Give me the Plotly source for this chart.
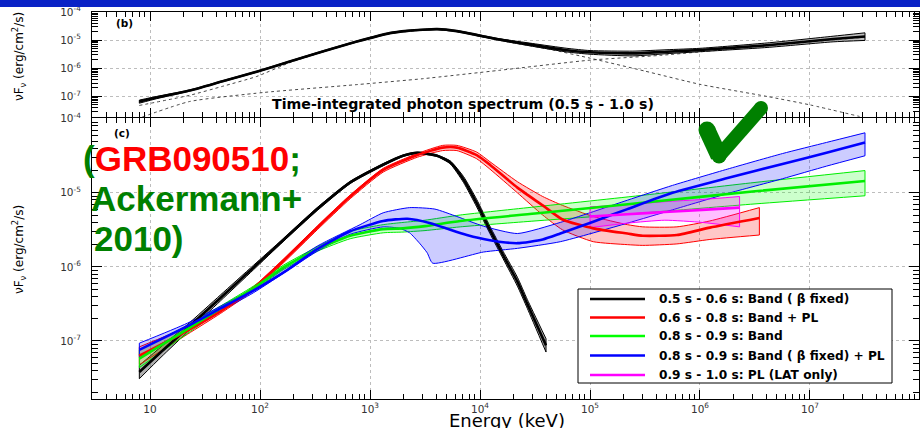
import plotly.graph_objects as go

# ---------------------------------------------------------------------------
# Spectral data: log10 E [keV] and log10 nuF_nu [erg/cm^2/s]
# ---------------------------------------------------------------------------

# Panel (c): time-resolved spectra
BLK_LE = [0.903, 1.10, 1.34, 1.64, 1.94, 2.21, 2.52, 2.82, 3.12, 3.30, 3.43, 3.61, 3.73, 3.85, 3.97, 4.09, 4.21, 4.34, 4.43, 4.60]
BLK_MID = [-7.42, -7.15, -6.83, -6.42, -6.01, -5.64, -5.22, -4.86, -4.62, -4.50, -4.46, -4.50, -4.59, -4.82, -5.14, -5.50, -5.84, -6.20, -6.50, -7.06]
BLK_HI = [-7.33, -7.08, -6.78, -6.38, -5.98, -5.62, -5.20, -4.845, -4.605, -4.49, -4.45, -4.49, -4.57, -4.78, -5.09, -5.45, -5.79, -6.14, -6.44, -6.97]
BLK_LO = [-7.51, -7.22, -6.88, -6.46, -6.04, -5.66, -5.24, -4.875, -4.635, -4.51, -4.47, -4.51, -4.61, -4.86, -5.19, -5.55, -5.89, -6.26, -6.56, -7.15]

RED_LE = [0.903, 1.34, 1.64, 1.94, 2.21, 2.52, 2.82, 3.12, 3.43, 3.66, 3.79, 3.97, 4.09, 4.34, 4.57, 4.75, 5.03, 5.34, 5.48, 5.79, 6.09, 6.54]
RED_MID = [-7.20, -6.86, -6.60, -6.29, -5.92, -5.47, -5.05, -4.69, -4.49, -4.39, -4.39, -4.49, -4.62, -4.93, -5.17, -5.36, -5.48, -5.55, -5.58, -5.57, -5.47, -5.34]
RED_HI = [-7.08, -6.81, -6.57, -6.27, -5.90, -5.45, -5.03, -4.67, -4.47, -4.36, -4.36, -4.45, -4.58, -4.85, -5.05, -5.17, -5.32, -5.43, -5.46, -5.46, -5.38, -5.20]
RED_LO = [-7.32, -6.91, -6.63, -6.32, -5.95, -5.50, -5.08, -4.72, -4.52, -4.43, -4.43, -4.54, -4.68, -5.00, -5.30, -5.50, -5.66, -5.70, -5.71, -5.69, -5.63, -5.57]

GRN_LE = [0.903, 1.34, 1.64, 1.94, 2.21, 2.52, 2.82, 3.12, 3.30, 3.50, 3.82, 4.50, 5.50, 6.50, 7.50]
GRN_MID = [-7.24, -6.84, -6.56, -6.29, -6.01, -5.76, -5.58, -5.49, -5.48, -5.45, -5.38, -5.28, -5.13, -4.98, -4.84]
GRN_HI = [-7.12, -6.79, -6.53, -6.26, -5.98, -5.73, -5.52, -5.43, -5.40, -5.37, -5.30, -5.19, -5.03, -4.86, -4.70]
GRN_LO = [-7.36, -6.90, -6.59, -6.32, -6.04, -5.79, -5.62, -5.54, -5.53, -5.51, -5.46, -5.38, -5.27, -5.15, -5.04]

BLU_LE = [0.903, 1.34, 1.64, 1.94, 2.25, 2.52, 2.82, 3.12, 3.34, 3.55, 3.73, 3.88, 4.09, 4.34, 4.57, 4.73, 5.03, 5.34, 5.75, 6.25, 6.75, 7.15, 7.50]
BLU_MID = [-7.12, -6.80, -6.56, -6.32, -6.04, -5.76, -5.52, -5.38, -5.35, -5.41, -5.50, -5.57, -5.64, -5.68, -5.63, -5.55, -5.39, -5.22, -5.00, -4.80, -4.61, -4.46, -4.32]
BLU_HI_LE = [0.903, 1.34, 1.94, 2.52, 2.91, 3.12, 3.36, 3.59, 3.79, 4.03, 4.34, 4.73, 5.34, 5.75, 6.25, 6.75, 7.15, 7.50]
BLU_HI = [-7.03, -6.76, -6.29, -5.72, -5.43, -5.27, -5.20, -5.22, -5.32, -5.45, -5.55, -5.40, -5.10, -4.90, -4.68, -4.47, -4.32, -4.19]
BLU_LO_LE = [0.903, 1.34, 1.94, 2.52, 2.82, 3.12, 3.27, 3.36, 3.45, 3.52, 3.57, 4.03, 4.34, 4.73, 5.34, 5.75, 6.25, 6.75, 7.15, 7.50]
BLU_LO = [-7.21, -6.84, -6.35, -5.79, -5.56, -5.46, -5.48, -5.54, -5.68, -5.81, -5.95, -5.80, -5.75, -5.66, -5.41, -5.23, -5.01, -4.81, -4.64, -4.50]

MAG_LE = [5.00, 5.34, 5.68, 6.02, 6.36]
MAG_MID = [-5.32, -5.29, -5.26, -5.23, -5.20]
MAG_HI = [-5.19, -5.16, -5.12, -5.09, -5.05]
MAG_LO = [-5.47, -5.41, -5.37, -5.40, -5.46]

# Panel (b): time-integrated spectrum (total model and its two components)
TOT_LE = [0.903, 1.06, 1.36, 1.66, 1.97, 2.27, 2.57, 2.88, 3.18, 3.34, 3.48, 3.61, 3.79, 4.18, 4.48, 4.79, 5.00, 5.39, 5.70, 6.00, 6.61, 7.21, 7.50]
TOT_MID = [-7.18, -7.04, -6.79, -6.46, -6.12, -5.76, -5.40, -5.05, -4.75, -4.67, -4.63, -4.61, -4.68, -4.98, -5.17, -5.36, -5.43, -5.47, -5.41, -5.35, -5.18, -4.96, -4.87]
TOT_HI = [-7.13, -7.00, -6.77, -6.44, -6.10, -5.74, -5.38, -5.03, -4.73, -4.65, -4.61, -4.59, -4.66, -4.95, -5.12, -5.29, -5.37, -5.39, -5.34, -5.29, -5.10, -4.86, -4.74]
TOT_LO = [-7.24, -7.08, -6.81, -6.48, -6.14, -5.78, -5.42, -5.07, -4.77, -4.69, -4.65, -4.63, -4.70, -5.01, -5.22, -5.42, -5.50, -5.56, -5.48, -5.41, -5.26, -5.06, -5.01]

BND_LE = [0.903, 1.36, 1.66, 1.97, 2.27, 2.57, 2.88, 3.18, 3.48, 3.61, 3.79, 4.18, 4.64, 5.00, 5.50, 6.00, 6.61, 7.00, 7.45]
BND = [-7.32, -6.96, -6.64, -6.29, -5.80, -5.42, -5.06, -4.77, -4.64, -4.62, -4.70, -5.01, -5.33, -5.64, -6.10, -6.57, -7.00, -7.30, -7.71]

PL_LE = [0.93, 1.36, 2.03, 2.88, 3.48, 4.18, 5.00, 5.64, 6.50, 7.50]
PL = [-7.73, -7.18, -6.86, -6.58, -6.37, -6.07, -5.71, -5.54, -5.24, -4.90]

LEGEND_LABELS = [
    "0.5 s - 0.6 s: Band ( \u03b2 fixed)",
    "0.6 s - 0.8 s: Band + PL",
    "0.8 s - 0.9 s: Band",
    "0.8 s - 0.9 s: Band ( \u03b2 fixed) + PL",
    "0.9 s - 1.0 s: PL (LAT only)",
]
SERIES_COLORS = ["#000000", "#ff0000", "#00ee00", "#0000ff", "#ff00ff"]
SERIES_FILLS = ["rgba(110,110,110,0.55)", "rgba(255,0,0,0.22)", "rgba(0,255,0,0.20)",
                "rgba(0,0,255,0.20)", "rgba(255,0,255,0.25)"]

X_TICKS = [1, 2, 3, 4, 5, 6, 7, 8]
Y_TICKS = [-7, -6, -5, -4]

# ---------------------------------------------------------------------------
W, H = 920, 428
ML, MR, MT, MB = 92, 1, 12, 29
PW, PH = W - ML - MR, H - MT - MB
FONT = "Liberation Sans"
WIDE = "DejaVu Sans"


def px(x):
    return (x - ML) / PW


def py(y):
    return (H - MB - y) / PH


def lin(vals):
    return [10 ** v for v in vals]


fig = go.Figure()
SMOOTH = 0.55


def add_band(le_hi, hi, le_lo, lo, color, fill, xa, ya, ew=1.0):
    common = dict(mode="lines", xaxis=xa, yaxis=ya, showlegend=False, hoverinfo="skip")
    fig.add_trace(go.Scatter(x=lin(le_lo), y=lin(lo),
                             line=dict(color=color, width=ew, shape="spline", smoothing=SMOOTH), **common))
    fig.add_trace(go.Scatter(x=lin(le_hi), y=lin(hi), fill="tonexty", fillcolor=fill,
                             line=dict(color=color, width=ew, shape="spline", smoothing=SMOOTH), **common))
    caps_x = lin([le_lo[0], le_hi[0]]) + [None] + lin([le_lo[-1], le_hi[-1]])
    caps_y = lin([lo[0], hi[0]]) + [None] + lin([lo[-1], hi[-1]])
    fig.add_trace(go.Scatter(x=caps_x, y=caps_y, line=dict(color=color, width=ew), **common))


def add_curve(le, vals, color, width, xa, ya, dash="solid"):
    fig.add_trace(go.Scatter(x=lin(le), y=lin(vals), mode="lines", xaxis=xa, yaxis=ya,
                             line=dict(color=color, width=width, dash=dash, shape="spline", smoothing=SMOOTH),
                             showlegend=False, hoverinfo="skip"))


# panel (b)
add_curve(BND_LE, BND, "#333333", 0.9, "x2", "y2", dash="dot")
add_curve(PL_LE, PL, "#333333", 0.9, "x2", "y2", dash="dot")
add_band(TOT_LE, TOT_HI, TOT_LE, TOT_LO, "#000000", "rgba(150,150,150,0.6)", "x2", "y2", ew=1.0)
add_curve(TOT_LE, TOT_MID, "#000000", 2.6, "x2", "y2")

# panel (c)
series = [
    (BLK_LE, BLK_HI, BLK_LE, BLK_LO, BLK_LE, BLK_MID),
    (RED_LE, RED_HI, RED_LE, RED_LO, RED_LE, RED_MID),
    (GRN_LE, GRN_HI, GRN_LE, GRN_LO, GRN_LE, GRN_MID),
    (BLU_HI_LE, BLU_HI, BLU_LO_LE, BLU_LO, BLU_LE, BLU_MID),
    (MAG_LE, MAG_HI, MAG_LE, MAG_LO, MAG_LE, MAG_MID),
]
for (leh, hi, lel, lo, lem, mid), col, fil in zip(series, SERIES_COLORS, SERIES_FILLS):
    add_band(leh, hi, lel, lo, col, fil, "x", "y")
for (leh, hi, lel, lo, lem, mid), col in zip(series, SERIES_COLORS):
    add_curve(lem, mid, col, 2.6, "x", "y")

# ---------------------------------------------------------------------------
tick_font = dict(family=WIDE, size=10.5, color="#333333")
minor_x = [10 ** (d) * m for d in range(0, 8) for m in range(2, 10)]
minor_y = [10 ** (d) * m for d in range(-8, -4) for m in range(2, 10)]

xbase = dict(type="log", range=[0.4727, 7.991], showline=True, linecolor="black", linewidth=1,
             mirror="ticks", ticks="inside", ticklen=9, tickcolor="black", tickwidth=1,
             tickvals=[10 ** k for k in X_TICKS],
             ticktext=["10" if k == 1 else f"10<sup>{k}</sup>" for k in X_TICKS],
             showgrid=True, gridcolor="#bdbdbd", griddash="dot", gridwidth=1, zeroline=False,
             minor=dict(tickvals=minor_x, ticks="inside", ticklen=5, tickcolor="black", showgrid=False),
             tickfont=tick_font)
ybase = dict(type="log", showline=True, linecolor="black", linewidth=1,
             mirror="ticks", ticks="inside", ticklen=10, tickcolor="black", tickwidth=1,
             tickvals=[10 ** k for k in Y_TICKS],
             ticktext=[f"10<sup>{k}</sup>" for k in Y_TICKS],
             showgrid=True, gridcolor="#bdbdbd", griddash="dot", gridwidth=1, zeroline=False,
             minor=dict(tickvals=minor_y, ticks="inside", ticklen=6, tickcolor="black", showgrid=False),
             tickfont=tick_font, ticklabelstandoff=8)

fig.update_layout(
    width=W, height=H, margin=dict(l=ML, r=MR, t=MT, b=MB),
    paper_bgcolor="white", plot_bgcolor="white", showlegend=False,
    xaxis=dict(xbase, domain=[0, 1], anchor="y"),
    xaxis2=dict(xbase, domain=[0, 1], anchor="y2", matches="x", showticklabels=False),
    yaxis=dict(ybase, domain=[0, 0.7261], anchor="x", range=[-7.784, -3.99]),
    yaxis2=dict(ybase, domain=[0.7287, 1.0], anchor="x2", range=[-7.73, -4.0]),
)

ann = []
shapes = []


def note(text, x, y, font, xanchor="center", **kw):
    ann.append(dict(text=text, x=px(x), y=py(y), xref="paper", yref="paper", xanchor=xanchor,
                    yanchor="middle", showarrow=False, font=font, **kw))


ytitle = "\u03bdF<sub>\u03bd</sub> (erg/cm<sup>2</sup>/s)"
for yc in (57, 250):
    note(ytitle, 19, yc, dict(family=WIDE, size=12, color="black"), textangle=-90)
note("Energy (keV)", 507, 420.5, dict(family=WIDE, size=18, color="black"))
note("<b>(b)</b>", 114, 23, dict(family=WIDE, size=10.5, color="black"), xanchor="left")
note("<b>(c)</b>", 112, 133, dict(family=WIDE, size=10.5, color="black"), xanchor="left")
note("<b>Time-integrated photon spectrum (0.5 s - 1.0 s)</b>", 270, 104,
     dict(family=WIDE, size=14.2, color="black"), xanchor="left")

# reference callout
big = dict(family=FONT, size=35, color="#008000")
note("<b>(<span style='color:#ff0000'>GRB090510</span>;</b>", 81, 158, big, xanchor="left")
note("<b>Ackermann+</b>", 89, 198, big, xanchor="left")
note("<b>2010)</b>", 92, 238, big, xanchor="left")

# check mark: two strokes with rounded ends
GREEN = "#008000"
for (x0, y0, x1, y1, w) in ((707, 130, 719, 156, 17), (719, 156, 761, 108, 14)):
    shapes.append(dict(type="line", xref="paper", yref="paper", x0=px(x0), y0=py(y0), x1=px(x1), y1=py(y1),
                       line=dict(color=GREEN, width=w), layer="above"))
for cx, cy, r in ((707, 130, 8.5), (719, 156, 7.5), (761, 108, 7)):
    shapes.append(dict(type="circle", xref="paper", yref="paper", x0=px(cx - r), x1=px(cx + r),
                       y0=py(cy + r), y1=py(cy - r), fillcolor=GREEN, line=dict(width=0), layer="above"))

# legend box
shapes.append(dict(type="rect", xref="paper", yref="paper", x0=px(578), x1=px(892), y0=py(383), y1=py(289),
                   line=dict(color="black", width=1), fillcolor="white", layer="above"))
rows = [299, 317.5, 336, 355.5, 375]
for lab, col, yr in zip(LEGEND_LABELS, SERIES_COLORS, rows):
    lc = "#00ff00" if col == "#00ee00" else col
    shapes.append(dict(type="line", xref="paper", yref="paper", x0=px(590), x1=px(645), y0=py(yr), y1=py(yr),
                       line=dict(color=lc, width=2.5), layer="above"))
    note(f"<b>{lab}</b>", 657, yr, dict(family=WIDE, size=12.2, color="black"), xanchor="left")

# slide frame (top strip)
FRAME = "#0a22c6"
shapes.append(dict(type="rect", xref="paper", yref="paper", x0=px(0), x1=px(W), y0=py(7), y1=py(0),
                   fillcolor=FRAME, line=dict(width=0), layer="above"))

fig.update_layout(annotations=ann, shapes=shapes)

fig.write_html("out.html")
